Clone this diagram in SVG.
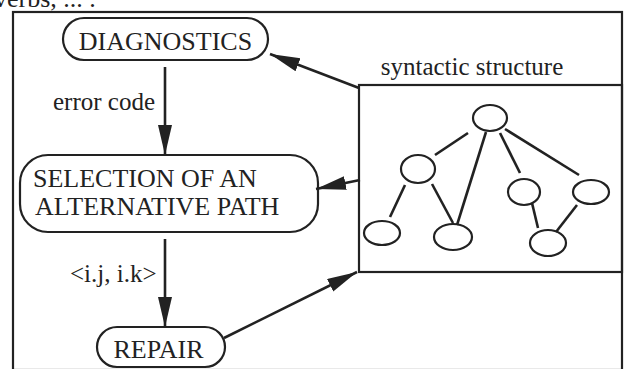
<svg xmlns="http://www.w3.org/2000/svg" width="624" height="369" viewBox="0 0 624 369">
<style>
text{font-family:"Liberation Serif","Times New Roman",serif;fill:#222;}
.t{font-size:26px;}
.l{font-size:25px;}
.box{fill:none;stroke:#222;stroke-width:2.2;}
.node{fill:none;stroke:#222;stroke-width:2.2;}
.edge{stroke:#222;stroke-width:2.6;fill:none;}
.arr{stroke:#222;stroke-width:2.6;fill:none;marker-end:url(#ah);}
</style>
<defs>
<marker id="ah" markerUnits="userSpaceOnUse" markerWidth="32" markerHeight="16" refX="30" refY="7" orient="auto">
<path d="M0,0 L30,7 L0,14 Z" fill="#222"/>
</marker>
</defs>
<rect width="624" height="369" fill="#fff"/>
<text class="t" x="-6" y="7">verbs, ... .</text>
<rect id="frame" x="13" y="12" width="609" height="358" fill="none" stroke="#222" stroke-width="2.2"/>
<g id="diagnostics">
<rect class="box" x="63" y="18" width="205" height="42" rx="21"/>
<text class="t" x="165.5" y="50" text-anchor="middle">DIAGNOSTICS</text>
</g>
<g id="selection">
<rect class="box" x="20" y="155" width="298" height="77" rx="28"/>
<text class="t" x="33" y="187">SELECTION OF AN</text>
<text class="t" x="35" y="215">ALTERNATIVE PATH</text>
</g>
<g id="repair">
<rect class="box" x="97" y="327" width="128" height="40" rx="20"/>
<text class="t" x="158.5" y="358" text-anchor="middle">REPAIR</text>
</g>
<g id="structure">
<text class="l" x="472" y="75" text-anchor="middle">syntactic structure</text>
<rect class="box" x="359" y="85" width="263" height="187"/>
<ellipse class="node" cx="490" cy="118" rx="17" ry="13"/>
<ellipse class="node" cx="418" cy="169" rx="17" ry="14"/>
<ellipse class="node" cx="382" cy="233" rx="18" ry="12"/>
<ellipse class="node" cx="453" cy="237" rx="19" ry="13"/>
<ellipse class="node" cx="524" cy="192" rx="16" ry="13"/>
<ellipse class="node" cx="591" cy="192" rx="18" ry="12"/>
<ellipse class="node" cx="548" cy="243" rx="18" ry="13"/>
<line class="edge" x1="468" y1="133" x2="435" y2="155"/>
<line class="edge" x1="486" y1="132" x2="457" y2="225"/>
<line class="edge" x1="500" y1="133" x2="520" y2="173"/>
<line class="edge" x1="505" y1="129" x2="579" y2="175"/>
<line class="edge" x1="405" y1="185" x2="390" y2="217"/>
<line class="edge" x1="432" y1="184" x2="453" y2="223"/>
<line class="edge" x1="532" y1="203" x2="538" y2="228"/>
<line class="edge" x1="577" y1="205" x2="556" y2="232"/>
</g>
<g id="connectors">
<line class="arr" x1="165" y1="67" x2="165" y2="155"/>
<text class="l" x="53" y="110">error code</text>
<line class="arr" x1="165" y1="239" x2="165" y2="327"/>
<text class="l" x="70" y="282">&lt;i.j, i.k&gt;</text>
<line class="arr" x1="359" y1="88" x2="270" y2="54"/>
<line class="arr" x1="360" y1="180" x2="316" y2="189"/>
<line class="arr" x1="224" y1="338" x2="357" y2="272"/>
</g>
</svg>
